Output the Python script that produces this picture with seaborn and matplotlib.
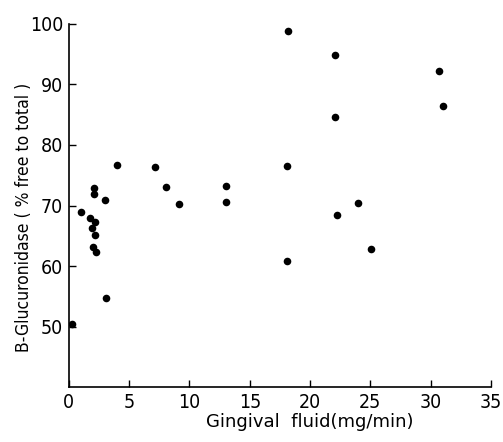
import matplotlib
matplotlib.use("Agg")
import matplotlib.pyplot as plt
from matplotlib import font_manager
import seaborn as sns
import pandas as pd

# data
fluid = [0.25, 1.0, 1.75, 2.05, 2.1, 2.2, 1.95, 2.2, 2.0, 2.25, 3.0, 3.1, 4.0,
         7.1, 8.05, 9.1, 13.05, 13.05,
         18.2, 22.1, 30.7, 31.0, 22.05, 18.05, 24.0, 22.2, 25.05, 18.05]
glucuronidase = [50.5, 68.9, 67.9, 72.9, 71.9, 67.2, 66.3, 65.1, 63.2, 62.3, 70.9, 54.7, 76.7,
                 76.4, 73.0, 70.3, 73.2, 70.65,
                 98.8, 94.85, 92.2, 86.5, 84.55, 76.6, 70.5, 68.5, 62.8, 60.85]
xticks = [0, 5, 10, 15, 20, 25, 30, 35]
yticks = [50, 60, 70, 80, 90, 100]

data = pd.DataFrame({"fluid": fluid, "gluc": glucuronidase})

sns.set_style("ticks")
condensed = any(f.name == "DejaVu Sans" and f.stretch in ("condensed", 300)
                for f in font_manager.fontManager.ttflist)
plt.rcParams['font.family'] = ['DejaVu Sans']
if condensed:
    plt.rcParams['font.stretch'] = 'condensed'

fig = plt.figure(figsize=(5.03, 4.42), dpi=100)
ax = fig.add_axes([0.137, 0.124, 0.839, 0.822])

sns.scatterplot(x="fluid", y="gluc", data=data, color="black", s=30,
                edgecolor="black", linewidth=0, ax=ax)

ax.set_xlim(0, 35)
ax.set_ylim(40, 100)
ax.set_xticks(xticks)
ax.set_yticks(yticks)
ax.tick_params(direction="in", length=5, width=1, labelsize=14 if condensed else 12.5,
               pad=4, colors="black")
sns.despine(ax=ax)
for side in ["left", "bottom"]:
    ax.spines[side].set_linewidth(1.2)
    ax.spines[side].set_color("black")

ax.set_xlabel("Gingival  fluid(mg/min)", fontsize=13, fontstretch="normal", color="black")
ax.set_ylabel("B-Glucuronidase ( % free to total )", fontsize=12.5, color="black")
ax.xaxis.set_label_coords(0.571, -0.072)
ax.yaxis.set_label_coords(-0.085, 0.468)

fig.savefig("out.png", dpi=100)
